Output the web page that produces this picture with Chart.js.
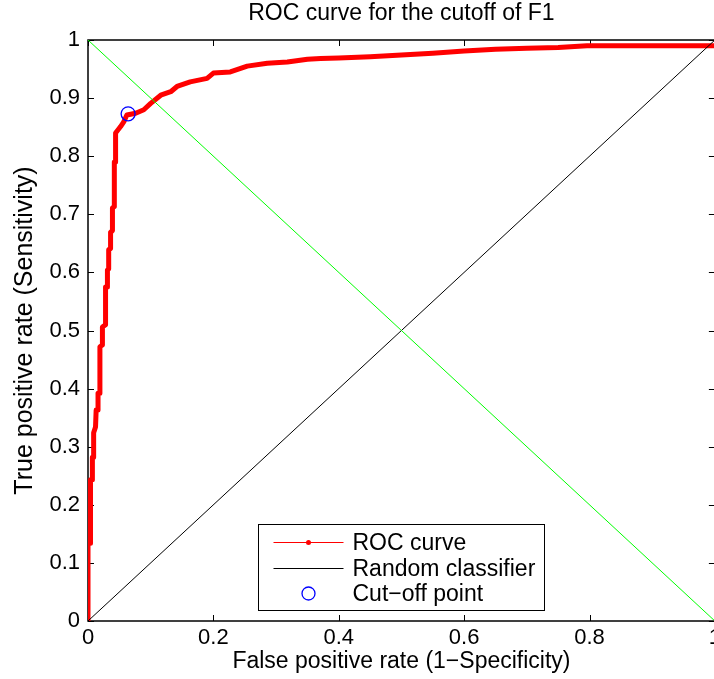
<!DOCTYPE html>
<html><head><meta charset="utf-8">
<script src="https://cdn.jsdelivr.net/npm/chart.js@4.4.1/dist/chart.umd.min.js"></script>
<style>html,body{margin:0;padding:0;overflow:hidden;background:#fff}#wrap{position:relative;width:725px;height:679px}</style>
</head><body><div id="wrap"><canvas id="c"></canvas></div>
<script>
// ---- data ----
const rocFPR = [0,0,0.004,0.004,0.007,0.007,0.009,0.009,0.012,0.013,0.016,0.016,0.019,0.019,0.023,0.023,0.028,0.028,0.031,0.031,0.033,0.033,0.036,0.036,0.039,0.039,0.042,0.042,0.044,0.044,0.052,0.057,0.062,0.076,0.089,0.100,0.116,0.132,0.142,0.163,0.190,0.200,0.227,0.254,0.286,0.318,0.350,0.371,0.400,0.450,0.500,0.550,0.600,0.650,0.700,0.750,0.796,1.000];
const rocTPR = [0,0.134,0.134,0.243,0.243,0.282,0.282,0.324,0.334,0.363,0.363,0.392,0.392,0.472,0.475,0.506,0.510,0.575,0.575,0.604,0.606,0.639,0.641,0.669,0.672,0.711,0.713,0.790,0.790,0.840,0.851,0.859,0.871,0.874,0.880,0.891,0.905,0.911,0.920,0.928,0.934,0.943,0.945,0.955,0.960,0.962,0.967,0.968,0.969,0.971,0.974,0.977,0.981,0.984,0.986,0.987,0.990,0.990];
const randomX = [0, 1];
const randomY = [0, 1];
const equalX = [0, 1];
const equalY = [1, 0];
const cutoffX = [0.064];
const cutoffY = [0.873];
const xTickValues = [0, 0.2, 0.4, 0.6, 0.8, 1];
const xTickLabels = ['0', '0.2', '0.4', '0.6', '0.8', '1'];
const yTickValues = [0, 0.1, 0.2, 0.3, 0.4, 0.5, 0.6, 0.7, 0.8, 0.9, 1];
const yTickLabels = ['0', '0.1', '0.2', '0.3', '0.4', '0.5', '0.6', '0.7', '0.8', '0.9', '1'];
const seriesNames = ['ROC curve', 'Random classifier', 'Cut\u2212off point'];
const titleText = 'ROC curve for the cutoff of F1';
const xTitle = 'False positive rate (1\u2212Specificity)';
const yTitle = 'True positive rate (Sensitivity)';

const FONT = "'Liberation Sans', Arial, Helvetica, sans-serif";
const FS = 22;
const FT = 23;
const pts = (xs, ys) => xs.map((x, i) => ({x: x, y: ys[i]}));

const axesBox = {
  id: 'axesBox',
  beforeDatasetsDraw(chart) {
    const {ctx, chartArea: {left, right, top, bottom}, scales: {x, y}} = chart;
    ctx.save();
    ctx.strokeStyle = '#000';
    ctx.lineWidth = 1.5;
    ctx.strokeRect(left, top, right - left, bottom - top);
    ctx.lineWidth = 1;
    ctx.beginPath();
    x.ticks.forEach(t => {
      const px = Math.round(x.getPixelForValue(t.value)) + 0.5;
      ctx.moveTo(px, bottom); ctx.lineTo(px, bottom - 6);
      ctx.moveTo(px, top); ctx.lineTo(px, top + 6);
    });
    y.ticks.forEach(t => {
      const py = Math.round(y.getPixelForValue(t.value)) + 0.5;
      ctx.moveTo(left, py); ctx.lineTo(left + 6, py);
      ctx.moveTo(right, py); ctx.lineTo(right - 6, py);
    });
    ctx.stroke();
    ctx.restore();
  }
};

const legendBox = {
  id: 'legendBox',
  afterDatasetsDraw(chart) {
    const {ctx, chartArea: {left, right, bottom}} = chart;
    const items = chart.data.datasets.filter(d => d.label);
    const w = 286, h = 86;
    const bx = Math.round((left + right) / 2 - w / 2) + 0.5;
    const by = Math.round(bottom - 11 - h) + 0.5;
    ctx.save();
    ctx.fillStyle = '#fff';
    ctx.fillRect(bx, by, w, h);
    ctx.strokeStyle = '#000';
    ctx.lineWidth = 1;
    ctx.strokeRect(bx, by, w, h);
    ctx.font = FT + 'px ' + FONT;
    ctx.textBaseline = 'middle';
    ctx.textAlign = 'left';
    items.forEach((d, i) => {
      const cy = Math.round(by + 17.5 + i * 25.7) + 0.5;
      const x0 = bx + 15, x1 = bx + 85, xm = (x0 + x1) / 2;
      if (d.showLine) {
        ctx.strokeStyle = d.borderColor;
        ctx.lineWidth = 1;
        ctx.beginPath(); ctx.moveTo(x0, cy); ctx.lineTo(x1, cy); ctx.stroke();
        if (d.legendDot) {
          ctx.fillStyle = d.borderColor;
          ctx.beginPath(); ctx.arc(xm, cy, 2.5, 0, Math.PI * 2); ctx.fill();
        }
      } else {
        ctx.strokeStyle = d.pointBorderColor;
        ctx.lineWidth = 1.3;
        ctx.beginPath(); ctx.arc(xm, cy, 6.5, 0, Math.PI * 2); ctx.stroke();
      }
      ctx.fillStyle = '#000';
      ctx.fillText(d.label, bx + 94, cy + 1);
    });
    ctx.restore();
  }
};

new Chart(document.getElementById('c'), {
  type: 'scatter',
  data: {
    datasets: [
      {label: seriesNames[0], data: pts(rocFPR, rocTPR), showLine: true, borderColor: '#ff0000', borderWidth: 5, pointRadius: 0, order: 3, borderJoinStyle: 'round', borderCapStyle: 'round', legendDot: true},
      {label: seriesNames[1], data: pts(randomX, randomY), showLine: true, borderColor: '#000000', borderWidth: 1, pointRadius: 0, order: 2},
      {label: seriesNames[2], data: pts(cutoffX, cutoffY), showLine: false, pointRadius: 7, pointBorderColor: '#0000ff', pointBackgroundColor: 'rgba(0,0,0,0)', pointBorderWidth: 1.3, order: 0},
      {label: '', data: pts(equalX, equalY), showLine: true, borderColor: '#00ff00', borderWidth: 1, pointRadius: 0, order: 1}
    ]
  },
  options: {
    responsive: true, maintainAspectRatio: false, animation: false,
    layout: {padding: {left: 0, right: 10, top: 0, bottom: 0}},
    plugins: {
      legend: {display: false},
      tooltip: {enabled: false},
      title: {display: true, fullSize: false, text: titleText, color: '#000', font: {family: FONT, size: FT, weight: 'normal'}, padding: {top: 0.2, bottom: 12.2}}
    },
    scales: {
      x: {
        type: 'linear', min: 0, max: 1,
        afterBuildTicks: s => { s.ticks = xTickValues.map(v => ({value: v})); },
        afterFit: s => { s.height = 58; },
        ticks: {callback: (v, i) => xTickLabels[i], color: '#000', font: {family: FONT, size: FS}, padding: 4, maxRotation: 0, autoSkip: false},
        grid: {display: false, drawTicks: false},
        border: {display: false},
        title: {display: true, text: xTitle, color: '#000', font: {family: FONT, size: FT}, padding: {top: 0, bottom: 3.2}}
      },
      y: {
        type: 'linear', min: 0, max: 1,
        afterBuildTicks: s => { s.ticks = yTickValues.map(v => ({value: v})); },
        afterFit: s => { s.width = 88; },
        ticks: {callback: (v, i) => yTickLabels[i], color: '#000', font: {family: FONT, size: FS}, padding: 8, autoSkip: false},
        grid: {display: false, drawTicks: false},
        border: {display: false},
        title: {display: true, text: yTitle, color: '#000', font: {family: FONT, size: 25}, padding: {top: 10, bottom: 0}}
      }
    }
  },
  plugins: [axesBox, legendBox]
});
</script>
</body></html>
